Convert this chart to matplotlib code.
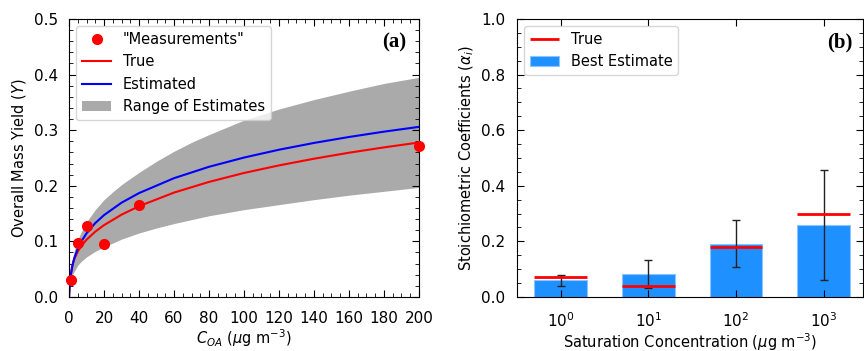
from matplotlib import pyplot as plt
from matplotlib.ticker import MultipleLocator

# panel (a): measurements
meas_x = [1, 5, 10, 20, 40, 200]
meas_y = [0.030, 0.097, 0.127, 0.095, 0.165, 0.272]

# panel (a): curves
curve_x = [0, 0.25, 0.5, 1, 2, 3, 5, 7, 10, 15, 20, 30, 40, 60, 80, 100, 120, 140, 160, 180, 200]
true_y = [0.0, 0.0155, 0.0263, 0.0407, 0.0575, 0.0679, 0.0817, 0.0916, 0.1030, 0.1175, 0.1292,
          0.1480, 0.1632, 0.1877, 0.2069, 0.2230, 0.2366, 0.2486, 0.2594, 0.2690, 0.2778]
est_y = [0.0, 0.0145, 0.0249, 0.0394, 0.0576, 0.0698, 0.0870, 0.0996, 0.1144, 0.1329, 0.1472,
         0.1695, 0.1868, 0.2136, 0.2341, 0.2507, 0.2648, 0.2770, 0.2877, 0.2973, 0.3059]

# panel (a): range of estimates
band_x = [1, 2, 3, 5, 7, 10, 15, 20, 25, 30, 40, 50, 60, 70, 80, 100, 120, 140, 160, 180, 200]
band_lo = [0.030, 0.040, 0.046, 0.057, 0.064, 0.072, 0.082, 0.090, 0.097, 0.104, 0.115, 0.124,
           0.132, 0.139, 0.146, 0.157, 0.166, 0.175, 0.183, 0.190, 0.197]
band_hi = [0.052, 0.070, 0.083, 0.103, 0.117, 0.135, 0.157, 0.175, 0.189, 0.202, 0.224, 0.244,
           0.262, 0.278, 0.292, 0.318, 0.338, 0.355, 0.370, 0.384, 0.395]

# panel (b)
bins = ['$10^0$', '$10^1$', '$10^2$', '$10^3$']
alpha_best = [0.062, 0.081, 0.190, 0.259]
alpha_true = [0.072, 0.038, 0.180, 0.299]
alpha_lo = [0.041, 0.032, 0.107, 0.062]
alpha_hi = [0.080, 0.133, 0.275, 0.457]


def style_ax(ax):
    ax.tick_params(which='both', direction='in', top=True, right=True, labelsize=11)
    ax.tick_params(which='major', length=5)
    ax.tick_params(which='minor', length=3)
    ax.tick_params(axis='x', which='major', pad=10)
    ax.tick_params(axis='y', which='major', pad=8)


fig = plt.figure(figsize=(8.64, 3.51), dpi=100)

ax1 = fig.add_axes([0.0799, 0.154, 0.405, 0.792])
ax1.fill_between(band_x, band_lo, band_hi, color='#aaaaaa', lw=0, label='Range of Estimates')
ax1.plot(curve_x, true_y, color='red', lw=1.5, label='True')
ax1.plot(curve_x, est_y, color='blue', lw=1.5, label='Estimated')
ax1.plot(meas_x, meas_y, 'o', color='red', ms=7, clip_on=False, zorder=5, label='"Measurements"')
ax1.set_xlim(0, 200)
ax1.set_ylim(0, 0.5)
ax1.xaxis.set_major_locator(MultipleLocator(20))
ax1.xaxis.set_minor_locator(MultipleLocator(5))
ax1.yaxis.set_major_locator(MultipleLocator(0.1))
ax1.yaxis.set_minor_locator(MultipleLocator(0.02))
style_ax(ax1)
ax1.set_xlabel('$C_{OA}$ ($\\mu$g m$^{-3}$)', fontsize=10.5, labelpad=1)
ax1.set_ylabel('Overall Mass Yield ($Y$)', fontsize=10.5)
h, l = ax1.get_legend_handles_labels()
order = [3, 1, 2, 0]
ax1.legend([h[i] for i in order], [l[i] for i in order], loc='upper left', fontsize=10.5)
ax1.text(0.963, 0.95, '(a)', transform=ax1.transAxes, ha='right', va='top',
         fontsize=15, fontweight='bold', family='Liberation Serif')

ax2 = fig.add_axes([0.598, 0.154, 0.401, 0.792])
pos = range(len(bins))
ax2.bar(pos, alpha_best, width=0.6, color='#1e90ff', edgecolor='#8cc4ff', lw=0.8, label='Best Estimate')
err = [[b - lo for b, lo in zip(alpha_best, alpha_lo)], [hi - b for b, hi in zip(alpha_best, alpha_hi)]]
ax2.errorbar(pos, alpha_best, yerr=err, fmt='none', ecolor='#222222', elinewidth=1, capsize=3)
ax2.hlines(alpha_true, [p - 0.3 for p in pos], [p + 0.3 for p in pos], color='red', lw=2, label='True')
ax2.set_xlim(-0.5, 3.45)
ax2.set_ylim(0, 1.0)
ax2.set_xticks(list(pos))
ax2.set_xticklabels(bins)
ax2.yaxis.set_major_locator(MultipleLocator(0.2))
ax2.yaxis.set_minor_locator(MultipleLocator(0.05))
style_ax(ax2)
ax2.set_xlabel('Saturation Concentration ($\\mu$g m$^{-3}$)', fontsize=10.5, labelpad=1)
ax2.set_ylabel('Stoichiometric Coefficients ($\\alpha_i$)', fontsize=10.5)
h, l = ax2.get_legend_handles_labels()
ax2.legend(h, l, loc='upper left', fontsize=10.5)
ax2.text(0.968, 0.95, '(b)', transform=ax2.transAxes, ha='right', va='top',
         fontsize=15, fontweight='bold', family='Liberation Serif')

fig.savefig('out.png', dpi=100)
